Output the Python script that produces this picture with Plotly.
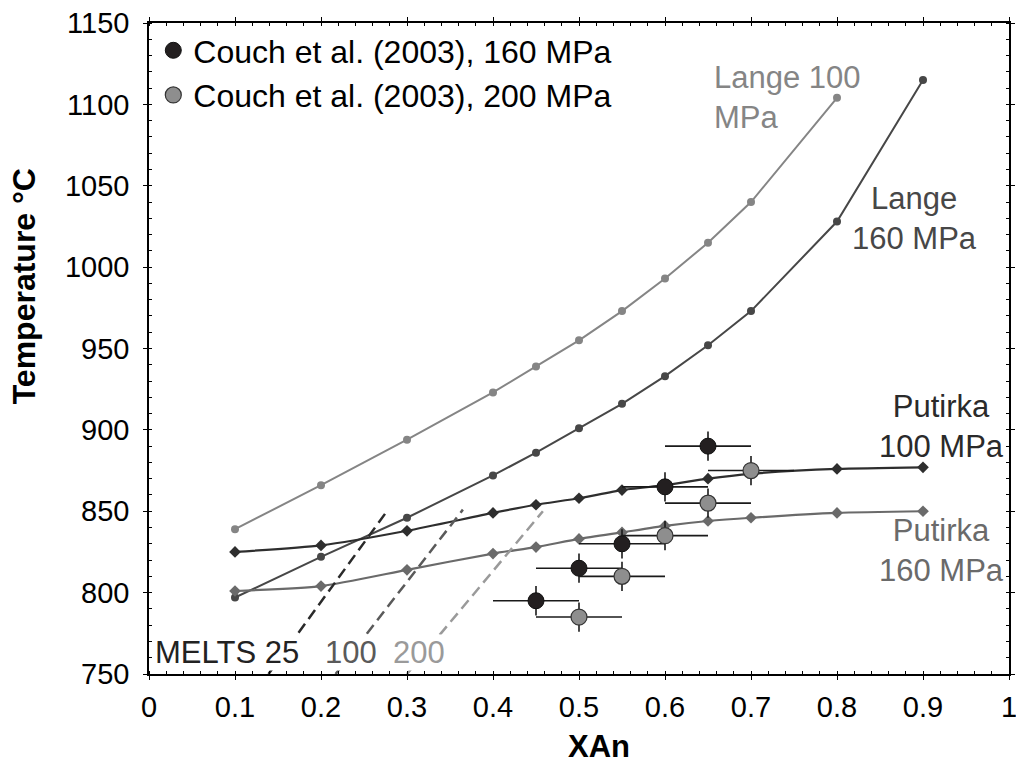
import plotly.graph_objects as go

# ---------------- data ----------------
xan_lange100 = [0.1, 0.2, 0.3, 0.4, 0.45, 0.5, 0.55, 0.6, 0.65, 0.7, 0.8]
t_lange100 = [839, 866, 894, 923, 939, 955, 973, 993, 1015, 1040, 1104]

xan_lange160 = [0.1, 0.2, 0.3, 0.4, 0.45, 0.5, 0.55, 0.6, 0.65, 0.7, 0.8, 0.9]
t_lange160 = [797, 822, 846, 872, 886, 901, 916, 933, 952, 973, 1028, 1115]

xan_putirka = [0.1, 0.2, 0.3, 0.4, 0.45, 0.5, 0.55, 0.6, 0.65, 0.7, 0.8, 0.9]
t_putirka100 = [825, 829, 838, 849, 854, 858, 863, 866, 870, 873, 876, 877]
t_putirka160 = [801, 804, 814, 824, 828, 833, 837, 841, 844, 846, 849, 850]

xan_melts25 = [0.139, 0.278]
t_melts25 = [750, 851]
xan_melts100 = [0.217, 0.365]
t_melts100 = [750, 851]
xan_melts200 = [0.300, 0.458]
t_melts200 = [750, 850]

xan_couch160 = [0.45, 0.5, 0.55, 0.6, 0.65]
t_couch160 = [795, 815, 830, 865, 890]
xan_couch200 = [0.5, 0.55, 0.6, 0.65, 0.7]
t_couch200 = [785, 810, 835, 855, 875]
xan_err = 0.05
t_err = 9

FONT = "Liberation Sans, Arial, Helvetica, sans-serif"

fig = go.Figure()

fig.add_trace(go.Scatter(x=xan_lange100, y=t_lange100, mode="lines+markers",
                         line=dict(color="#858585", width=2),
                         marker=dict(symbol="circle", size=8, color="#858585"),
                         showlegend=False))
fig.add_trace(go.Scatter(x=xan_lange160, y=t_lange160, mode="lines+markers",
                         line=dict(color="#474747", width=2),
                         marker=dict(symbol="circle", size=8, color="#474747"),
                         showlegend=False))
fig.add_trace(go.Scatter(x=xan_putirka, y=t_putirka100, mode="lines+markers",
                         line=dict(color="#2e2e2e", width=2.2, shape="spline", smoothing=0.6),
                         marker=dict(symbol="diamond", size=9, color="#2e2e2e"),
                         showlegend=False))
fig.add_trace(go.Scatter(x=xan_putirka, y=t_putirka160, mode="lines+markers",
                         line=dict(color="#6a6a6a", width=2.2, shape="spline", smoothing=0.6),
                         marker=dict(symbol="diamond", size=9, color="#6a6a6a"),
                         showlegend=False))

for xs, ts, col in [(xan_melts25, t_melts25, "#2a2a2a"),
                    (xan_melts100, t_melts100, "#5a5a5a"),
                    (xan_melts200, t_melts200, "#9a9a9a")]:
    fig.add_trace(go.Scatter(x=xs, y=ts, mode="lines",
                             line=dict(color=col, width=2.5, dash="11px,6px"),
                             showlegend=False))

err_style = dict(type="constant", thickness=1.6, width=0, color="#1a1a1a")
fig.add_trace(go.Scatter(x=xan_couch160, y=t_couch160, mode="markers",
                         name="Couch et al. (2003), 160 MPa",
                         marker=dict(symbol="circle", size=16, color="#231f20",
                                     line=dict(color="#111111", width=1)),
                         error_x=dict(value=xan_err, **err_style),
                         error_y=dict(value=t_err, **err_style)))
fig.add_trace(go.Scatter(x=xan_couch200, y=t_couch200, mode="markers",
                         name="Couch et al. (2003), 200 MPa",
                         marker=dict(symbol="circle", size=16, color="#8e8e8e",
                                     line=dict(color="#333333", width=1.2)),
                         error_x=dict(value=xan_err, **err_style),
                         error_y=dict(value=t_err, **err_style)))

ann_font = lambda c: dict(family=FONT, size=31, color=c)
annotations = [
    dict(text="Lange 100<br>MPa", x=0.655, y=1104, xanchor="left", yanchor="middle",
         align="left", font=ann_font("#858585")),
    dict(text="Lange<br>160 MPa", x=0.890, y=1030, xanchor="center", yanchor="middle",
         align="center", font=ann_font("#474747")),
    dict(text="Putirka<br>100 MPa", x=0.922, y=902, xanchor="center", yanchor="middle",
         align="center", font=ann_font("#2a2a2a")),
    dict(text="Putirka<br>160 MPa", x=0.921, y=826, xanchor="center", yanchor="middle",
         align="center", font=ann_font("#6a6a6a")),
    dict(text="MELTS 25", x=0.006, y=763, xanchor="left", yanchor="middle",
         font=ann_font("#222222"), bgcolor="white", borderpad=0),
    dict(text="100", x=0.204, y=763, xanchor="left", yanchor="middle",
         font=ann_font("#5a5a5a"), bgcolor="white", borderpad=0),
    dict(text="200", x=0.282, y=763, xanchor="left", yanchor="middle",
         font=ann_font("#9a9a9a"), bgcolor="white", borderpad=0),
]
for a in annotations:
    a.update(xref="x", yref="y", showarrow=False)

annotations.append(dict(text="<b>Temperature °C</b>", xref="paper", yref="paper",
                        x=-0.145, y=0.596, xanchor="center", yanchor="middle",
                        textangle=-90, showarrow=False,
                        font=dict(family=FONT, size=32, color="black")))
annotations.append(dict(text="<b>XAn</b>", xref="paper", yref="paper",
                        x=0.523, y=-0.112, xanchor="center", yanchor="middle",
                        showarrow=False,
                        font=dict(family=FONT, size=31, color="black")))

axis_common = dict(showline=True, linecolor="black", linewidth=1.5, mirror="allticks",
                   ticks="outside", ticklen=4, tickwidth=1.3, tickcolor="black",
                   showgrid=False, zeroline=False, automargin=False,
                   ticklabeloverflow="allow",
                   tickfont=dict(family=FONT, size=29, color="black"))

fig.update_xaxes(range=[0, 1], tickmode="array",
                 tickvals=[0, 0.1, 0.2, 0.3, 0.4, 0.5, 0.6, 0.7, 0.8, 0.9, 1],
                 ticktext=["0", "0.1", "0.2", "0.3", "0.4", "0.5", "0.6", "0.7", "0.8", "0.9", "1"],
                 minor=dict(dtick=0.02, tick0=0, ticks="inside", ticklen=3, tickwidth=1, tickcolor="black"),
                 ticklabelstandoff=2, **axis_common)
fig.update_yaxes(range=[750, 1150], tickmode="linear", tick0=750, dtick=50,
                 minor=dict(dtick=10, tick0=750, ticks="inside", ticklen=3, tickwidth=1, tickcolor="black"),
                 ticklabelstandoff=8, **axis_common)

fig.update_layout(
    width=1016, height=767,
    margin=dict(l=149, r=7, t=23, b=93),
    paper_bgcolor="white", plot_bgcolor="white",
    font=dict(family=FONT, color="black"),
    annotations=annotations,
    legend=dict(x=0.005, y=1.0, xanchor="left", yanchor="top",
                bgcolor="rgba(0,0,0,0)", borderwidth=0,
                font=dict(family=FONT, size=32, color="black"),
                tracegroupgap=0),
)

fig.write_html("out.html")
